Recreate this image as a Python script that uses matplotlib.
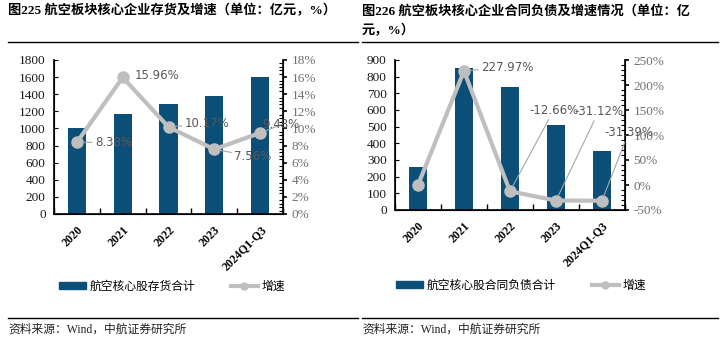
import numpy as np
import matplotlib
matplotlib.use('Agg')
import matplotlib.pyplot as plt
from matplotlib.ticker import MultipleLocator, FuncFormatter
from matplotlib.lines import Line2D
from matplotlib.patches import Patch

# serif for latin digits, CJK font for chinese glyphs
plt.rcParams['font.family'] = ['Liberation Serif', 'Noto Sans CJK SC', 'DejaVu Sans']

# data
years = ['2020', '2021', '2022', '2023', '2024Q1-Q3']
inventory = [1003, 1163, 1282, 1378, 1600]
inv_growth = [8.38, 15.96, 10.17, 7.56, 9.48]
contract = [258, 850, 740, 510, 355]
con_growth = [0.0, 227.97, -12.66, -31.12, -31.39]
con_labels = [None, '227.97%', '-12.66%', '-31.12%', '-31.39%']

BAR = '#0B4F78'
LINE = '#BFBFBF'
W, H = 724, 344

fig = plt.figure(figsize=(W / 100, H / 100), dpi=100)


def box(x0, y0, x1, y1):
    return [x0 / W, 1 - y1 / H, (x1 - x0) / W, (y1 - y0) / H]


def style_axes(ax, ax2, n):
    ax.spines['top'].set_visible(False)
    ax2.spines['top'].set_visible(False)
    for s in ['left', 'bottom']:
        ax.spines[s].set_linewidth(1.2)
    ax2.spines['right'].set_linewidth(1.2)
    ax.set_xlim(-0.5, n - 0.5)
    ax.set_xticks(range(n))
    ax.set_xticklabels(years, rotation=45, ha='right', va='top',
                       fontweight='bold', fontsize=8.5, rotation_mode='anchor')
    ax.tick_params(axis='x', length=0, pad=7)
    ax.set_xticks(np.arange(-0.5, n, 1.0), minor=True)
    ax.tick_params(axis='x', which='minor', direction='in', length=4, width=1)
    ax.tick_params(axis='y', direction='in', length=3, labelsize=9.5, pad=6,
                   labelcolor='#1a1a1a')
    ax2.tick_params(axis='y', which='major', direction='out', length=3, width=1.2,
                    labelsize=9.5, labelcolor='#707070', pad=3)
    ax2.tick_params(axis='y', which='minor', direction='in', length=3, width=0.8)


def label(ax, x, y, txt, dx, dy, line=True):
    ax.annotate(txt, xy=(x, y), xytext=(dx, dy), textcoords='offset pixels',
                fontsize=8.5, color='#595959', family='DejaVu Sans', va='center', ha='left',
                arrowprops=dict(arrowstyle='-', color='#A6A6A6', lw=0.8,
                                shrinkA=0, shrinkB=4) if line else None)


x = np.arange(len(years))

# ---- left panel
ax = fig.add_axes(box(54, 60, 283, 214))
ax.bar(x, inventory, width=0.4, color=BAR, zorder=2)
ax.set_ylim(0, 1800)
ax.yaxis.set_major_locator(MultipleLocator(200))
ax2 = ax.twinx()
ax2.plot(x, inv_growth, color=LINE, lw=3, marker='o', ms=8, zorder=3)
ax2.set_ylim(0, 18)
ax2.yaxis.set_major_locator(MultipleLocator(2))
ax2.yaxis.set_minor_locator(MultipleLocator(0.4))
ax2.yaxis.set_major_formatter(FuncFormatter(lambda v, p: '%d%%' % v))
style_axes(ax, ax2, len(years))
offs = [(18, 0), (12, 2), (16, 3), (20, -7), (2, 8)]
for i in range(len(years)):
    label(ax2, x[i], inv_growth[i], '%.2f%%' % inv_growth[i], *offs[i],
          line=(i != 1))

# ---- right panel
bx = fig.add_axes(box(395, 60, 625, 210))
bx.bar(x, contract, width=0.4, color=BAR, zorder=2)
bx.set_ylim(0, 900)
bx.yaxis.set_major_locator(MultipleLocator(100))
bx2 = bx.twinx()
bx2.plot(x, con_growth, color=LINE, lw=3, marker='o', ms=8, zorder=3)
bx2.set_ylim(-50, 250)
bx2.yaxis.set_major_locator(MultipleLocator(50))
bx2.yaxis.set_minor_locator(MultipleLocator(10))
bx2.yaxis.set_major_formatter(FuncFormatter(lambda v, p: '%d%%' % v))
style_axes(bx, bx2, len(years))
offs2 = [None, (17, 4), (19, 81), (18, 89), (2, 68)]
for i in range(1, len(years)):
    label(bx2, x[i], con_growth[i], con_labels[i], *offs2[i])

# titles
fig.text(8 / W, 1 - 11 / H, '图225 航空板块核心企业存货及增速（单位：亿元，%）',
         fontsize=9.5, fontweight='bold', va='center', ha='left')
fig.text(362 / W, 1 - 11 / H, '图226 航空板块核心企业合同负债及增速情况（单位：亿',
         fontsize=9.5, fontweight='bold', va='center', ha='left')
fig.text(362 / W, 1 - 31 / H, '元，%）',
         fontsize=9.5, fontweight='bold', va='center', ha='left')

# rules
for x0, x1 in [(8, 358), (362, 718)]:
    fig.add_artist(Line2D([x0 / W, x1 / W], [1 - 42 / H] * 2, color='black', lw=1))
    fig.add_artist(Line2D([x0 / W, x1 / W], [1 - 318 / H] * 2, color='black', lw=1))

# legends
handles1 = [Patch(color=BAR), Line2D([], [], color=LINE, lw=3, marker='o', ms=5)]
fig.legend(handles1, ['航空核心股存货合计', '增速'], loc='center', ncol=2,
           bbox_to_anchor=(172 / W, 1 - 287 / H), frameon=False, fontsize=8.5,
           handlelength=2.3, handleheight=0.5, columnspacing=3, handletextpad=0.3)
handles2 = [Patch(color=BAR), Line2D([], [], color=LINE, lw=3, marker='o', ms=5)]
fig.legend(handles2, ['航空核心股合同负债合计', '增速'], loc='center', ncol=2,
           bbox_to_anchor=(521 / W, 1 - 286 / H), frameon=False, fontsize=8.5,
           handlelength=2.3, handleheight=0.5, columnspacing=3, handletextpad=0.3)

# sources
fig.text(8 / W, 1 - 330 / H, '资料来源：Wind，中航证券研究所', fontsize=8.5,
         va='center', ha='left', color='#222222')
fig.text(362 / W, 1 - 330 / H, '资料来源：Wind，中航证券研究所', fontsize=8.5,
         va='center', ha='left', color='#222222')

fig.savefig('out.png', dpi=100)
